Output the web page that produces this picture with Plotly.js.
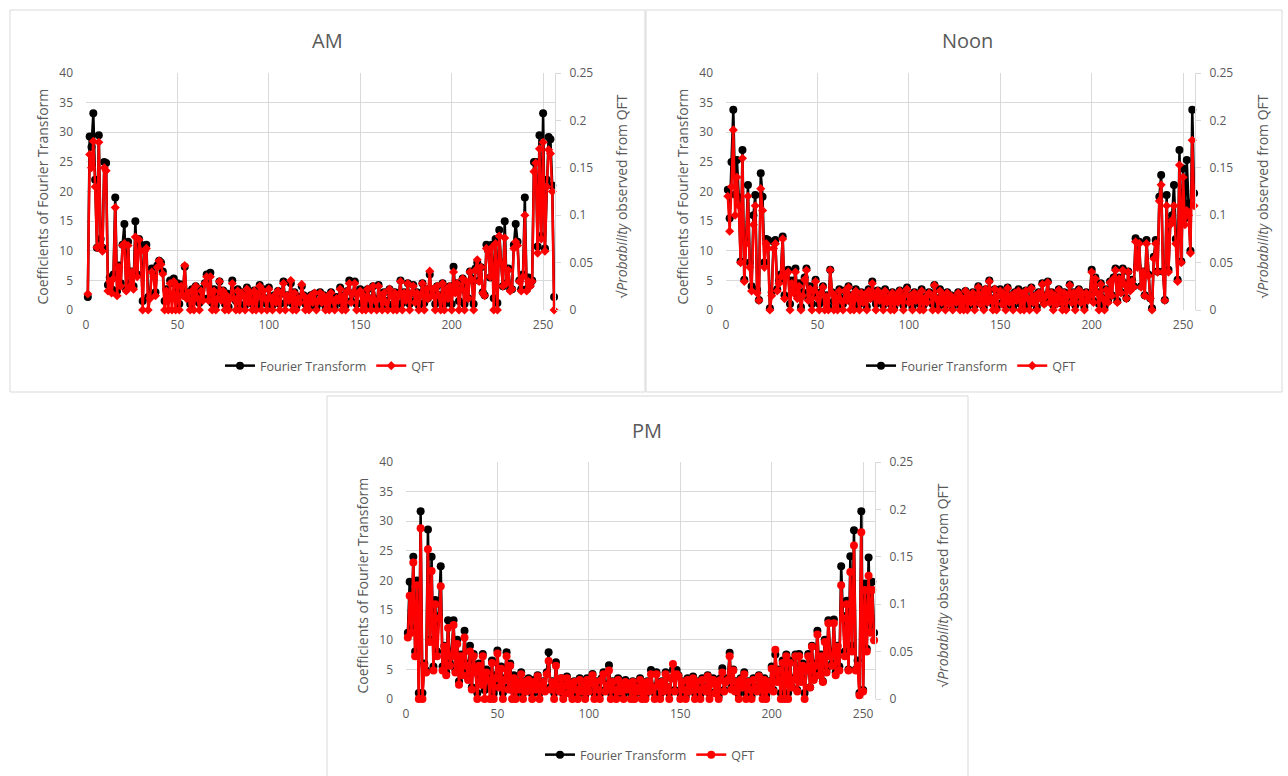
<!DOCTYPE html>
<html>
<head>
<meta charset="utf-8">
<script src="https://cdn.plot.ly/plotly-3.0.1.min.js"></script>
<style>html,body{margin:0;padding:0;background:#fff;}#chart{width:1288px;height:776px;}</style>
</head>
<body>
<div id="chart"></div>
<script>
// ---------- DATA ----------
const panelTitles = ["AM", "Noon", "PM"];
const seriesNames = ["Fourier Transform", "QFT"];
const xTickVals = [0, 50, 100, 150, 200, 250];
const leftTickVals = [0, 5, 10, 15, 20, 25, 30, 35, 40];
const rightTickVals = [0, 0.05, 0.1, 0.15, 0.2, 0.25];

// AM - coefficients of Fourier transform (left axis)
const amFT = [
 2.2, 29.3, 27.5, 33.2, 22, 10.5, 29.5, 12, 10.5, 25, 24.8, 4.2, 5.5, 3.5, 6, 19,
 3.2, 7.5, 4.5, 11, 14.5, 3.5, 11.5, 4.5, 6.5, 4, 15, 6, 12, 11, 1.5, 10.5,
 11, 2.2, 2.5, 7, 6, 3, 7.5, 8.3, 8, 6.5, 1.5, 3.5, 2.5, 5, 4.5, 5.3,
 2, 4.5, 1, 4.3, 3, 7.3, 2.5, 3, 1, 3.5, 1.5, 4, 2.5, 1.2, 3.5, 2,
 4.5, 6, 2, 6.3, 1.2, 3.5, 0.8, 2.5, 4.8, 2, 3.3, 1, 2.8, 0.5, 2.5, 5,
 2.2, 1.5, 3.5, 1, 3, 2.5, 0.8, 3.8, 1.5, 2.8, 1, 3.3, 0.5, 2.5, 4.2, 1.2,
 3.5, 2, 1, 3.8, 2.2, 0.8, 2.5, 1.5, 3.2, 1, 2.8, 4.8, 1.2, 2.5, 1.8, 4.5,
 1, 3, 0.6, 2.2, 1.5, 4, 2.5, 1, 1.8, 0.5, 2.5, 1.2, 2.8, 0.4, 1.5, 3,
 1.2, 2.5, 0.6, 2.3, 1, 3, 1.6, 0.5, 2.2, 1.5, 3.8, 1, 2.5, 0.8, 3.2, 5,
 1.5, 2.8, 4.8, 1, 3, 3.5, 1.2, 2.5, 0.6, 3.5, 2, 1, 4, 1.8, 0.5, 4.2,
 2.2, 1, 3, 1.5, 0.8, 3.5, 2.5, 1, 3, 0.5, 2.5, 5, 1.2, 3, 1.8, 4.5,
 1, 2.8, 4.2, 1.5, 3, 0.8, 2.5, 4.5, 1.2, 3.5, 2, 6, 2.5, 3.5, 1, 4,
 2.5, 1.5, 4.5, 1, 3.5, 2.2, 4, 1, 7.3, 3, 4.5, 1.5, 3.5, 5.3, 1, 4.5,
 2, 6.5, 5.3, 1, 7, 8, 5, 7.2, 3, 2.5, 11, 10, 5.5, 11, 2, 12,
 1.2, 13.5, 8, 4, 15, 4.5, 7, 3.5, 3.5, 11, 14.5, 11.5, 5, 3.5, 6, 19,
 3.5, 5.5, 4.2, 5, 25, 25, 10.7, 29.5, 12.5, 33.2, 10.4, 22, 29.2, 28.8, 21, 2.2
];
// AM - square root of probability observed from QFT (right axis)
const amQFT = [
 0.017, 0.164, 0.15, 0.178, 0.13, 0.066, 0.177, 0.068, 0.062, 0.15, 0.147, 0.02, 0.03, 0.018, 0.033, 0.108,
 0.015, 0.045, 0.025, 0.068, 0.07, 0.02, 0.068, 0.025, 0.04, 0.022, 0.077, 0.035, 0.074, 0.062, 0, 0.062,
 0.065, 0, 0.012, 0.04, 0.035, 0.015, 0.045, 0.052, 0.048, 0.038, 0, 0.02, 0, 0.028, 0, 0.03,
 0, 0.025, 0, 0.025, 0.015, 0.047, 0.012, 0.018, 0, 0.02, 0, 0.025, 0.012, 0, 0.02, 0.01,
 0.028, 0.035, 0.01, 0.035, 0, 0.02, 0, 0.012, 0.03, 0.01, 0.02, 0, 0.015, 0, 0.012, 0.028,
 0.012, 0, 0.02, 0, 0.018, 0.015, 0, 0.022, 0.008, 0.018, 0, 0.02, 0, 0.015, 0.025, 0,
 0.02, 0.012, 0, 0.022, 0.012, 0, 0.015, 0.008, 0.02, 0, 0.018, 0.028, 0, 0.015, 0.01, 0.031,
 0, 0.018, 0, 0.012, 0.008, 0.027, 0.015, 0, 0.01, 0, 0.015, 0.008, 0.018, 0, 0.01, 0.018,
 0.008, 0.015, 0, 0.014, 0, 0.018, 0.01, 0, 0.012, 0.01, 0.022, 0, 0.015, 0, 0.02, 0.028,
 0.008, 0.018, 0.028, 0, 0.018, 0.02, 0, 0.015, 0, 0.022, 0.012, 0, 0.025, 0.01, 0, 0.025,
 0.012, 0, 0.018, 0.008, 0, 0.022, 0.015, 0, 0.018, 0, 0.015, 0.03, 0, 0.018, 0.01, 0.028,
 0, 0.018, 0.025, 0.008, 0.018, 0, 0.015, 0.028, 0, 0.022, 0.012, 0.041, 0.015, 0.022, 0, 0.025,
 0.015, 0, 0.028, 0, 0.022, 0.012, 0.025, 0, 0.04, 0.018, 0.028, 0, 0.022, 0.033, 0, 0.03,
 0.012, 0.04, 0.032, 0, 0.042, 0.053, 0.03, 0.045, 0.018, 0.015, 0.065, 0.062, 0.035, 0.066, 0, 0.07,
 0, 0.078, 0.05, 0.025, 0.076, 0.028, 0.042, 0.02, 0.022, 0.065, 0.072, 0.068, 0.03, 0.02, 0.035, 0.1,
 0.02, 0.03, 0.025, 0.03, 0.146, 0.155, 0.06, 0.17, 0.075, 0.177, 0.062, 0.13, 0.169, 0.165, 0.125, 0
];

// Noon
const noonFT = [
 20.3, 15.5, 25, 33.8, 19.5, 25.3, 19, 8.2, 27, 5.1, 12, 21.1, 8, 4, 16, 19.4,
 3.4, 1.7, 23.1, 19.1, 8, 12, 11.8, 0.3, 3, 11.5, 11.8, 3.5, 5, 6, 12.4, 2.5,
 6.5, 6.8, 1, 5, 3.5, 7, 2.5, 4.5, 0.5, 3, 5.5, 7, 2, 4, 1, 3.5,
 5.1, 2.5, 1, 3, 4, 1.5, 2.5, 0.5, 6.8, 3, 1.5, 2.5, 0.8, 3.5, 2, 1,
 3.3, 2, 4, 1.5, 2.5, 0.5, 3.5, 2, 1, 3, 1.5, 2.8, 0.6, 3.5, 2, 4.8,
 2.5, 1, 3.3, 1.8, 2.8, 0.8, 3.5, 1.5, 2.3, 1, 3, 0.5, 2.5, 1.5, 3.3, 2,
 0.8, 2.8, 3.8, 1.5, 2.5, 0.5, 3, 1.8, 2.5, 1, 3.5, 0.8, 2.2, 1.5, 3, 2.8,
 1, 4.2, 2, 0.5, 3.5, 1.5, 2.5, 0.8, 3, 1.2, 2.5, 0.5, 2, 1.5, 3, 0.8,
 2.2, 1, 3.2, 0.5, 2.5, 1.5, 3, 0.8, 2, 4, 1.2, 2.8, 0.5, 3.5, 1.5, 5,
 2, 1, 3.5, 0.5, 2.5, 3.5, 1.2, 2.8, 0.8, 3.8, 1.5, 2.5, 0.5, 3, 1.8, 3.5,
 1, 2.8, 0.6, 3.3, 2, 1, 3.8, 1.5, 2.5, 0.5, 3, 2, 4.5, 1.2, 2.5, 4.8,
 1.5, 3, 0.8, 2.5, 1.2, 3.5, 2, 1, 3, 0.5, 2.5, 4.3, 1.5, 3, 0.8, 2.5,
 3.5, 1.5, 2.8, 0.5, 3, 1.8, 2.5, 6.8, 1.5, 5.5, 3, 1, 4.5, 2, 0.5, 3.5,
 1.5, 4.8, 2.5, 5.5, 7, 1.5, 5.5, 3, 7, 4.5, 2, 6.5, 3.5, 5.1, 4, 12.1,
 7.5, 11.5, 4, 6.5, 2.5, 11.8, 6, 2, 0.3, 9, 11.8, 6.5, 19.1, 22.8, 6.5, 1.7,
 19.4, 6.8, 15, 16, 21.1, 12, 5.1, 27, 8.2, 23.9, 15.5, 25.3, 18, 10, 33.8, 19.7
];
const noonQFT = [
 0.12, 0.083, 0.13, 0.19, 0.1, 0.14, 0.11, 0.05, 0.16, 0.03, 0.07, 0.12, 0.045, 0.02, 0.09, 0.11,
 0.018, 0.01, 0.128, 0.105, 0.045, 0.07, 0.065, 0, 0.015, 0.065, 0.07, 0.02, 0.028, 0.035, 0.075, 0.012,
 0.038, 0.04, 0, 0.028, 0.018, 0.04, 0.012, 0.025, 0, 0.015, 0.032, 0.042, 0.01, 0.022, 0, 0.02,
 0.03, 0.012, 0, 0.018, 0.024, 0, 0.014, 0, 0.042, 0.018, 0, 0.014, 0, 0.02, 0.01, 0,
 0.02, 0.01, 0.024, 0, 0.015, 0, 0.02, 0.012, 0, 0.018, 0.008, 0.016, 0, 0.02, 0.012, 0.028,
 0.015, 0, 0.02, 0.01, 0.016, 0, 0.02, 0.008, 0.014, 0, 0.018, 0, 0.015, 0.008, 0.02, 0.012,
 0, 0.016, 0.022, 0.008, 0.015, 0, 0.018, 0.01, 0.015, 0, 0.02, 0, 0.013, 0.008, 0.018, 0.016,
 0, 0.026, 0.012, 0, 0.02, 0.008, 0.015, 0, 0.018, 0.006, 0.015, 0, 0.012, 0.008, 0.018, 0,
 0.013, 0, 0.02, 0, 0.015, 0.008, 0.018, 0, 0.012, 0.024, 0.006, 0.017, 0, 0.022, 0.008, 0.03,
 0.012, 0, 0.022, 0, 0.015, 0.02, 0.006, 0.017, 0, 0.023, 0.008, 0.015, 0, 0.018, 0.01, 0.02,
 0, 0.017, 0, 0.02, 0.012, 0, 0.023, 0.008, 0.015, 0, 0.018, 0.012, 0.027, 0.006, 0.015, 0.029,
 0.008, 0.018, 0, 0.015, 0.006, 0.021, 0.012, 0, 0.018, 0, 0.015, 0.026, 0.008, 0.018, 0, 0.015,
 0.021, 0.008, 0.017, 0, 0.018, 0.01, 0.015, 0.04, 0.008, 0.033, 0.018, 0, 0.027, 0.012, 0, 0.021,
 0.008, 0.029, 0.015, 0.033, 0.042, 0.008, 0.033, 0.018, 0.042, 0.027, 0.012, 0.04, 0.02, 0.03, 0.024, 0.072,
 0.045, 0.07, 0.024, 0.04, 0.015, 0.07, 0.036, 0.012, 0, 0.054, 0.07, 0.04, 0.115, 0.132, 0.04, 0.01,
 0.11, 0.04, 0.09, 0.095, 0.11, 0.07, 0.03, 0.153, 0.05, 0.14, 0.09, 0.105, 0.1, 0.06, 0.179, 0.11
];

// PM
const pmFT = [
 11.2, 19.8, 12, 24, 8, 20, 1, 31.7, 1, 6, 4.8, 28.6, 10, 24, 5.5, 16.7,
 8, 14, 22.4, 5.5, 9, 4.5, 13.3, 6, 8, 13.3, 5, 10, 3, 7.5, 4.5, 11.5,
 6, 3.5, 9, 2, 7.6, 5, 1, 6, 3, 7.6, 1.5, 5, 3.5, 2, 6.5, 1,
 4, 8.2, 2.5, 5.5, 1, 3.5, 7.9, 2, 6, 1.5, 4, 0.5, 3, 2, 4.5, 1,
 3, 1.5, 3.5, 2.5, 0.8, 3.2, 2, 4, 1, 2.5, 3, 1.5, 4.5, 7.9, 2, 3,
 1, 6.2, 2.5, 1.5, 3.5, 0.8, 2.5, 3.8, 1.2, 2.8, 0.5, 3, 2, 1, 3.5, 1.5,
 2.5, 0.6, 3.5, 1.5, 2.8, 4.2, 1, 3, 2, 0.8, 3.5, 4.5, 1.5, 2.5, 5.7, 1,
 3, 2, 0.8, 3.5, 1.5, 2.5, 0.5, 3.2, 1.8, 2.5, 1, 3, 0.5, 2.2, 1.5, 3.5,
 1, 2.5, 0.6, 3, 1.5, 4.9, 2, 1, 4.5, 2.5, 0.8, 3, 1.5, 4.5, 2, 1,
 3.5, 5, 1.5, 4.9, 4, 1, 3, 2, 0.5, 3.5, 1.5, 2.5, 3.8, 1, 3, 2,
 0.8, 3.5, 2, 1.5, 4, 1, 2.8, 3.5, 1.2, 2.5, 0.5, 3.5, 5.2, 1.5, 3, 3.5,
 7.8, 2, 5, 1.5, 3, 0.8, 3.5, 2, 4.5, 1, 3, 2, 0.5, 3.5, 2, 1.5,
 4, 2.5, 1, 3.5, 0.6, 3, 2, 5.5, 1.5, 7.5, 3, 5, 1, 6.5, 0.5, 7.5,
 1, 6.5, 2, 3.5, 7.5, 1.5, 7.6, 3, 6, 1, 5, 7.6, 2, 9, 3.5, 6,
 11.5, 4.5, 7.5, 3, 10, 5, 13.3, 8, 6, 13.4, 4.5, 9, 5.5, 22.4, 14, 8,
 16.6, 5, 24.1, 9, 28.5, 5, 6.5, 1, 31.7, 1.5, 19.5, 8.5, 23.9, 12.5, 19.8, 11.2
];
const pmQFT = [
 0.065, 0.109, 0.07, 0.144, 0.045, 0.12, 0, 0.18, 0, 0.035, 0.028, 0.158, 0.06, 0.135, 0.03, 0.1,
 0.045, 0.085, 0.119, 0.03, 0.055, 0.025, 0.075, 0.035, 0.045, 0.078, 0.028, 0.058, 0.015, 0.045, 0.025, 0.065,
 0.035, 0.02, 0.05, 0.01, 0.045, 0.028, 0, 0.035, 0.015, 0.045, 0, 0.028, 0.02, 0, 0.038, 0,
 0.022, 0.048, 0.012, 0.032, 0, 0.02, 0.045, 0.01, 0.035, 0, 0.022, 0, 0.018, 0.01, 0.026, 0,
 0.018, 0.008, 0.02, 0.014, 0, 0.018, 0.01, 0.024, 0, 0.014, 0.018, 0.008, 0.026, 0.04, 0.01, 0.018,
 0, 0.035, 0.014, 0.008, 0.022, 0, 0.014, 0.022, 0.006, 0.016, 0, 0.018, 0.01, 0, 0.02, 0.008,
 0.014, 0, 0.02, 0.008, 0.016, 0.025, 0, 0.018, 0.01, 0, 0.02, 0.026, 0.008, 0.014, 0.03, 0,
 0.018, 0.01, 0, 0.02, 0.008, 0.014, 0, 0.018, 0.01, 0.014, 0, 0.018, 0, 0.012, 0.008, 0.02,
 0, 0.014, 0, 0.018, 0.008, 0.026, 0.012, 0, 0.026, 0.014, 0, 0.018, 0.008, 0.026, 0.012, 0,
 0.022, 0.037, 0.008, 0.026, 0.024, 0, 0.018, 0.01, 0, 0.02, 0.008, 0.014, 0.022, 0, 0.018, 0.01,
 0, 0.02, 0.012, 0.008, 0.024, 0, 0.016, 0.02, 0.006, 0.014, 0, 0.02, 0.028, 0.008, 0.018, 0.02,
 0.045, 0.01, 0.03, 0.008, 0.018, 0, 0.02, 0.012, 0.026, 0, 0.018, 0.01, 0, 0.02, 0.012, 0.008,
 0.024, 0.014, 0, 0.02, 0, 0.018, 0.01, 0.032, 0.008, 0.052, 0.018, 0.03, 0, 0.038, 0, 0.045,
 0, 0.038, 0.012, 0.02, 0.045, 0.008, 0.045, 0.018, 0.035, 0, 0.03, 0.045, 0.012, 0.055, 0.02, 0.035,
 0.068, 0.025, 0.045, 0.018, 0.06, 0.028, 0.08, 0.045, 0.035, 0.08, 0.025, 0.055, 0.03, 0.12, 0.085, 0.045,
 0.1, 0.03, 0.134, 0.05, 0.162, 0.03, 0.035, 0.004, 0.176, 0.008, 0.115, 0.05, 0.13, 0.07, 0.115, 0.062
];

// sample index (1..256) for the horizontal axis
const sampleIndex = amFT.map((_, i) => i + 1);

// ---------- LAYOUT ----------
const W = 1288, H = 776;
const px = v => v / W;
const py = v => 1 - v / H;
const GRAY = '#595959', GRID = '#d9d9d9';
const FONT = 'Open Sans, Noto Sans, sans-serif';

// plot area boxes in pixels: [left, right, top, bottom]
const panels = [
  {box: [86, 555, 73, 310], frame: [10, 645, 10, 392], title: [327, 40], legend: [330, 366], leftT: 42, rightT: 621, ft: amFT, qft: amQFT, qSym: 'diamond', qSize: 7},
  {box: [726, 1195, 73, 310], frame: [646, 1282, 10, 392], title: [967, 40], legend: [971, 366], leftT: 682, rightT: 1262, ft: noonFT, qft: noonQFT, qSym: 'diamond', qSize: 7},
  {box: [406, 875, 462, 699], frame: [327, 968, 396, 790], title: [647, 430], legend: [650, 755], leftT: 362, rightT: 942, ft: pmFT, qft: pmQFT, qSym: 'circle', qSize: 8}
];

const traces = [];
const layout = {
  width: W, height: H, autosize: false,
  margin: {l: 0, r: 0, t: 0, b: 0},
  paper_bgcolor: '#ffffff', plot_bgcolor: '#ffffff',
  font: {family: FONT, color: GRAY, size: 12},
  shapes: [], annotations: []
};

panels.forEach((p, i) => {
  const n = i + 1;
  const xa = n === 1 ? 'x' : 'x' + n;
  const yl = 'y' + (2 * n - 1 === 1 ? '' : 2 * n - 1);
  const yr = 'y' + (2 * n);
  const legendId = n === 1 ? 'legend' : 'legend' + n;
  const xKey = n === 1 ? 'xaxis' : 'xaxis' + n;
  const ylKey = 'yaxis' + (2 * n - 1 === 1 ? '' : 2 * n - 1);
  const yrKey = 'yaxis' + (2 * n);

  traces.push({
    type: 'scatter', mode: 'lines+markers', name: seriesNames[0],
    x: sampleIndex, y: p.ft, xaxis: xa, yaxis: yl, legend: legendId,
    line: {color: '#000000', width: 2.5}, marker: {color: '#000000', symbol: 'circle', size: 8},
    cliponaxis: false
  });
  traces.push({
    type: 'scatter', mode: 'lines+markers', name: seriesNames[1],
    x: sampleIndex, y: p.qft, xaxis: xa, yaxis: yr, legend: legendId,
    line: {color: '#ff0000', width: 2.5}, marker: {color: '#ff0000', symbol: p.qSym, size: p.qSize},
    cliponaxis: false
  });

  const [l, r, t, b] = p.box;
  layout[xKey] = {
    domain: [px(l), px(r)], anchor: yl, range: [0, 256.5],
    tickvals: xTickVals, showgrid: true, gridcolor: GRID, gridwidth: 1,
    zeroline: false, showline: false, ticks: '', ticklabelstandoff: 6,
    tickfont: {size: 12, color: GRAY}, fixedrange: true
  };
  layout[ylKey] = {
    domain: [py(b), py(t)], anchor: xa, range: [0, 40],
    tickvals: leftTickVals, showgrid: true, gridcolor: GRID, gridwidth: 1,
    zeroline: false, showline: false, ticks: '', ticklabelstandoff: 12,
    tickfont: {size: 12, color: GRAY}, fixedrange: true
  };
  layout[yrKey] = {
    overlaying: yl, side: 'right', anchor: xa, range: [0, 0.25],
    tickvals: rightTickVals, showgrid: false, zeroline: false,
    showline: true, linecolor: GRID, linewidth: 1,
    ticks: 'outside', ticklen: 5, tickcolor: GRID, ticklabelstandoff: 6,
    tickfont: {size: 12, color: GRAY}, fixedrange: true
  };
  layout[legendId] = {
    orientation: 'h', x: px(p.legend[0]), y: py(p.legend[1]),
    xanchor: 'center', yanchor: 'middle', bgcolor: 'rgba(0,0,0,0)',
    font: {size: 12.5, color: GRAY}, itemwidth: 30, traceorder: 'normal'
  };

  const [fl, fr, ft, fb] = p.frame;
  layout.shapes.push({type: 'rect', xref: 'paper', yref: 'paper',
    x0: px(fl), x1: px(fr), y0: py(fb), y1: py(ft), line: {color: GRID, width: 1}, layer: 'below'});

  layout.annotations.push({text: panelTitles[i], xref: 'paper', yref: 'paper',
    x: px(p.title[0]), y: py(p.title[1]), xanchor: 'center', yanchor: 'middle', showarrow: false,
    font: {size: 20, color: GRAY, family: FONT}});
  layout.annotations.push({text: 'Coefficients of Fourier Transform', xref: 'paper', yref: 'paper',
    x: px(p.leftT), y: py((t + b) / 2 + 5), xanchor: 'center', yanchor: 'middle', textangle: -90, showarrow: false,
    font: {size: 14, color: GRAY, family: FONT}});
  layout.annotations.push({text: '√<i>Probability</i> observed from QFT', xref: 'paper', yref: 'paper',
    x: px(p.rightT), y: py((t + b) / 2 + 5), xanchor: 'center', yanchor: 'middle', textangle: -90, showarrow: false,
    font: {size: 14, color: GRAY, family: FONT}});
});

Plotly.newPlot('chart', traces, layout, {staticPlot: true, displayModeBar: false});
</script>
</body>
</html>
